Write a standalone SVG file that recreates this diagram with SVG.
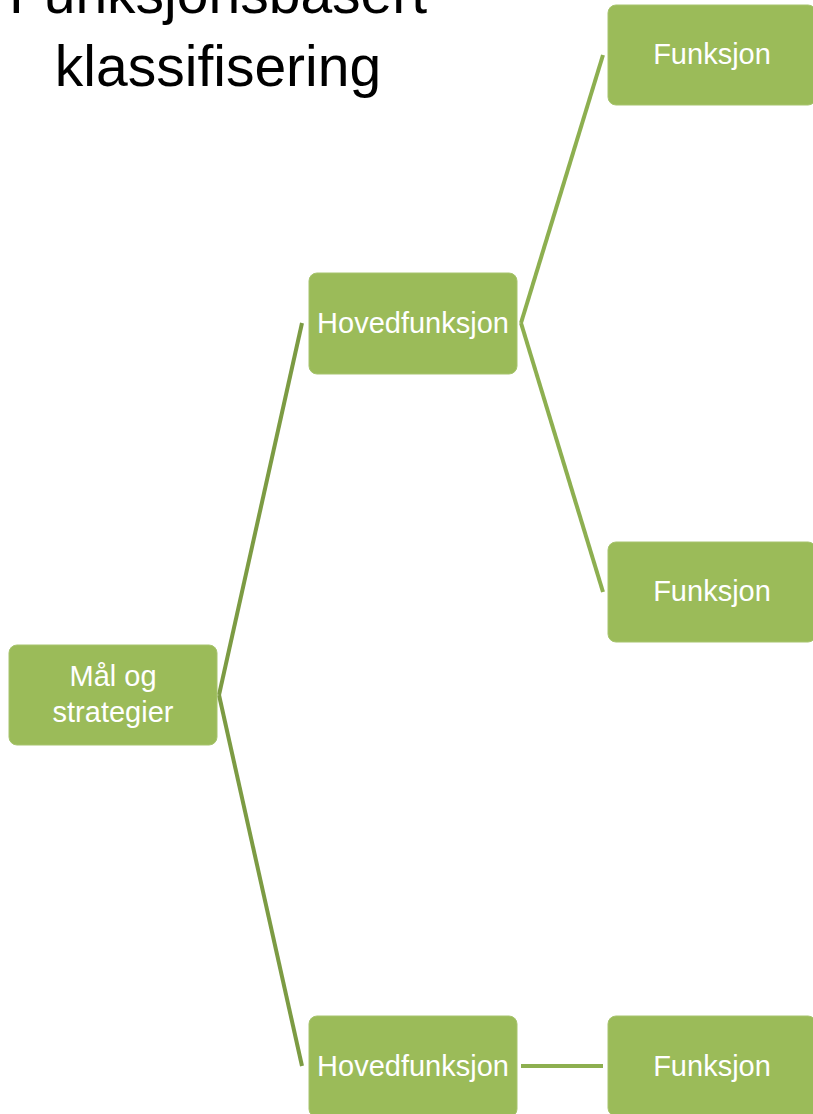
<svg xmlns="http://www.w3.org/2000/svg" width="813" height="1114" viewBox="0 0 813 1114">
<style>
.box{fill:#9BBB59;stroke:#A7C46E;stroke-width:1}
.lbl{fill:#FFFFFF;font-family:"Liberation Sans",Arial,sans-serif;font-size:29px;text-anchor:middle}
.title{fill:#000000;font-family:"Liberation Sans",Arial,sans-serif;font-size:57px;text-anchor:middle}
.c1{stroke:#7C9B43;stroke-width:4;fill:none;stroke-linecap:butt}
.c2{stroke:#8DAF50;stroke-width:4;fill:none;stroke-linecap:butt}
</style>
<rect width="813" height="1114" fill="#FFFFFF"/>
<g id="title">
<text class="title" x="218" y="13">Funksjonsbasert</text>
<text class="title" x="218" y="86">klassifisering</text>
</g>
<g id="connectors">
<path class="c1" d="M219,695 L302,323"/>
<path class="c1" d="M219,695 L302,1066"/>
<path class="c2" d="M521,323 L603,55"/>
<path class="c2" d="M521,323 L603,592"/>
<path class="c2" d="M521,1066 L603,1066"/>
</g>
<g id="mal">
<rect class="box" x="9" y="645" width="208" height="100" rx="8"/>
<text class="lbl" x="113" y="686">Mål og</text>
<text class="lbl" x="113" y="722">strategier</text>
</g>
<g id="hoved1">
<rect class="box" x="309" y="273" width="208" height="101" rx="8"/>
<text class="lbl" x="413" y="333">Hovedfunksjon</text>
</g>
<g id="hoved2">
<rect class="box" x="309" y="1016" width="208" height="101" rx="8"/>
<text class="lbl" x="413" y="1076">Hovedfunksjon</text>
</g>
<g id="funk1">
<rect class="box" x="608" y="5" width="208" height="100" rx="8"/>
<text class="lbl" x="712" y="64">Funksjon</text>
</g>
<g id="funk2">
<rect class="box" x="608" y="542" width="208" height="100" rx="8"/>
<text class="lbl" x="712" y="601">Funksjon</text>
</g>
<g id="funk3">
<rect class="box" x="608" y="1016" width="208" height="100" rx="8"/>
<text class="lbl" x="712" y="1076">Funksjon</text>
</g>
</svg>
